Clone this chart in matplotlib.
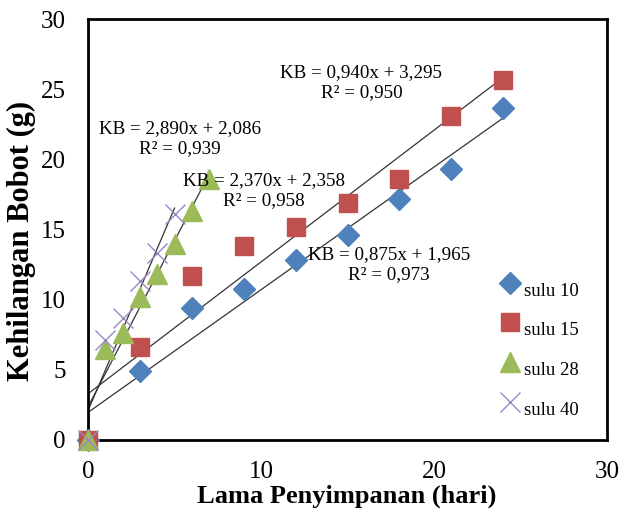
import matplotlib
matplotlib.use("Agg")
import matplotlib.pyplot as plt
import numpy as np

plt.rcParams['font.family'] = ['Liberation Serif', 'DejaVu Serif']

# data
x10 = [0, 3, 6, 9, 12, 15, 18, 21, 24]
y10 = [0, 4.9, 9.4, 10.8, 12.8, 14.6, 17.2, 19.3, 23.7]
x15 = [0, 3, 6, 9, 12, 15, 18, 21, 24]
y15 = [0, 6.6, 11.7, 13.8, 15.2, 16.9, 18.6, 23.1, 25.7]
x28 = [0, 1, 2, 3, 4, 5, 6, 7]
y28 = [0, 6.5, 7.6, 10.2, 11.8, 14.0, 16.3, 18.6]
x40 = [0, 1, 2, 3, 4, 5]
y40 = [0, 7.1, 8.7, 11.3, 13.3, 16.1]

labels = ["sulu 10", "sulu 15", "sulu 28", "sulu 40"]
colors = ["#4F81BD", "#C0504D", "#9BBB59", "#9B87C4"]

# trendline coefficients from the labels
slopes = [0.875, 0.940, 2.370, 2.890]
intercepts = [1.965, 3.295, 2.358, 2.086]
r2 = ["0,973", "0,950", "0,958", "0,939"]
eq_pos = [(17.4, 12.5), (15.8, 25.5), (10.15, 17.8), (5.3, 21.5)]

fig = plt.figure(figsize=(6.21, 5.26), dpi=100)
ax = fig.add_axes([0.1417, 0.1635, 0.836, 0.8])

xs = [x10, x15, x28, x40]
ys = [y10, y15, y28, y40]
markers = ["D", "s", "^", "x"]
sizes = [11, 13, 15, 14]

for i in range(4):
    xl = np.array([0, max(xs[i])])
    ax.plot(xl, slopes[i] * xl + intercepts[i], color="#333333", lw=0.9, zorder=2)

for i in range(4):
    # leading newline pushes the legend text below its marker, like the original
    if markers[i] == "x":
        ax.plot(xs[i], ys[i], ls="none", marker="x", ms=sizes[i], mew=1.0,
                color=colors[i], label="\n" + labels[i], clip_on=False, zorder=3)
    else:
        ax.plot(xs[i], ys[i], ls="none", marker=markers[i], ms=sizes[i],
                color=colors[i], mec=colors[i], label="\n" + labels[i],
                clip_on=False, zorder=3)

for i in range(4):
    s = "KB = %sx + %s\nR² = %s" % (f"{slopes[i]:.3f}".replace(".", ","),
                                     f"{intercepts[i]:.3f}".replace(".", ","), r2[i])
    ax.text(eq_pos[i][0], eq_pos[i][1], s, ha="center", va="center",
            multialignment="center", fontsize=13.7, linespacing=1.2, zorder=4)

ax.set_xlim(0, 30)
ax.set_ylim(0, 30)
ax.set_xticks([0, 10, 20, 30])
ax.set_yticks([0, 5, 10, 15, 20, 25, 30])
ax.tick_params(length=0, labelsize=18)
ax.tick_params(axis="x", pad=15)
ax.tick_params(axis="y", pad=16)
for sp in ax.spines.values():
    sp.set_linewidth(2)

ax.set_xlabel("Lama Penyimpanan (hari)", fontsize=19, fontweight="bold")
ax.set_ylabel("Kehilangan Bobot (g)", fontsize=22, fontweight="bold")
ax.xaxis.set_label_coords(0.498, -0.106)
ax.yaxis.set_label_coords(-0.1, 0.473)

leg = ax.legend(loc="upper left", bbox_to_anchor=(0.765, 0.445), frameon=False,
                fontsize=13.5, labelspacing=0.3, handlelength=1.2,
                handletextpad=0.15, borderpad=0.2)
for t in leg.get_texts():
    t.set_linespacing(1.0)

fig.savefig("out.png", dpi=100)
